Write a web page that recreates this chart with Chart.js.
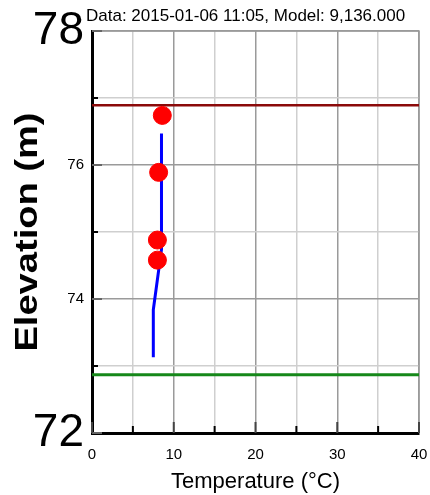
<!DOCTYPE html>
<html>
<head>
<meta charset="utf-8">
<script src="https://cdn.jsdelivr.net/npm/chart.js@4/dist/chart.umd.min.js"></script>
<style>
  html, body { margin: 0; padding: 0; background: #fff; }
  canvas { display: block; }
</style>
</head>
<body>
<canvas id="profileChart" width="430" height="495"></canvas>
<script>
// --- data ---
const headerText = 'Data: 2015-01-06 11:05, Model: 9,136.000';

// modelled profile (blue line)
const profileTemp = [8.5, 8.5, 7.5, 7.5];
const profileElev = [76.47, 74.74, 73.84, 73.13];

// measured points (red dots)
const obsTemp = [8.6, 8.15, 8.0, 8.0];
const obsElev = [76.74, 75.89, 74.88, 74.58];

// horizontal levels
const surfaceLevel = 76.89;   // dark red
const bottomLevel = 72.87;    // green
const levelSpan = [0, 40];

const yBigTicks = [78, 72];
const yLabelTicks = [78, 76, 74, 72];
const xLabelTicks = [0, 10, 20, 30, 40];

const FONT = '"Liberation Sans", Arial, sans-serif';

function pairs(xs, ys) {
    return xs.map((x, i) => ({ x: x, y: ys[i] }));
}

// border, inner ticks, header and y title
const decorPlugin = {
    id: 'decor',
    beforeDatasetsDraw(chart) {
        const { ctx, chartArea: a, scales } = chart;
        ctx.save();
        // top/right border
        ctx.strokeStyle = '#9a9a9a';
        ctx.lineWidth = 1.5;
        ctx.beginPath();
        ctx.moveTo(a.left, a.top);
        ctx.lineTo(a.right, a.top);
        ctx.lineTo(a.right, a.bottom);
        ctx.stroke();

        // inward ticks on y axis
        scales.y.ticks.forEach(t => {
            const py = scales.y.getPixelForValue(t.value);
            const major = t.value % 2 === 0;
            ctx.strokeStyle = major ? '#666' : '#000';
            ctx.lineWidth = 2;
            ctx.beginPath();
            ctx.moveTo(a.left, py);
            ctx.lineTo(a.left + (major ? 10 : 6), py);
            ctx.stroke();
        });
        // inward ticks on x axis
        scales.x.ticks.forEach(t => {
            const px = scales.x.getPixelForValue(t.value);
            const major = t.value % 10 === 0;
            ctx.strokeStyle = major ? '#444' : '#000';
            ctx.lineWidth = 2;
            ctx.beginPath();
            ctx.moveTo(px, a.bottom);
            ctx.lineTo(px, a.bottom - (major ? 11 : 7));
            ctx.stroke();
        });
        ctx.restore();
    },
    afterDraw(chart) {
        const { ctx, chartArea: a } = chart;
        ctx.save();
        ctx.fillStyle = '#000';
        ctx.font = '17px ' + FONT;
        ctx.textAlign = 'left';
        ctx.textBaseline = 'alphabetic';
        ctx.fillText(headerText, 86, 21);

        // y axis title (stretched like the original)
        ctx.translate(28, (a.top + a.bottom) / 2);
        ctx.rotate(-Math.PI / 2);
        ctx.scale(1.19, 1);
        ctx.font = 'bold 32px ' + FONT;
        ctx.textAlign = 'center';
        ctx.textBaseline = 'middle';
        ctx.fillText('Elevation (m)', 0, 0);
        ctx.restore();
    }
};

new Chart(document.getElementById('profileChart'), {
    type: 'scatter',
    data: {
        datasets: [
            {
                label: 'Measured',
                data: pairs(obsTemp, obsElev),
                backgroundColor: '#ff0000',
                borderColor: '#ff0000',
                pointRadius: 9,
                pointHoverRadius: 9,
                showLine: false
            },
            {
                label: 'Model',
                data: pairs(profileTemp, profileElev),
                borderColor: '#0000ff',
                borderWidth: 3,
                pointRadius: 0,
                showLine: true,
                tension: 0
            },
            {
                label: 'Surface',
                data: pairs(levelSpan, [surfaceLevel, surfaceLevel]),
                borderColor: '#8b0a0a',
                borderWidth: 2.5,
                pointRadius: 0,
                showLine: true
            },
            {
                label: 'Bottom',
                data: pairs(levelSpan, [bottomLevel, bottomLevel]),
                borderColor: '#16881a',
                borderWidth: 3,
                pointRadius: 0,
                showLine: true
            }
        ]
    },
    options: {
        responsive: false,
        animation: false,
        layout: { padding: { top: 31, right: 11, left: 0, bottom: 0 } },
        plugins: {
            legend: { display: false },
            tooltip: { enabled: false },
            title: { display: false }
        },
        scales: {
            x: {
                type: 'linear',
                min: 0,
                max: 40,
                afterFit(scale) {
                    scale.height = 62;
                    scale.paddingLeft = 0;
                    scale.paddingRight = 0;
                },
                border: { display: true, color: '#000', width: 3 },
                grid: {
                    drawTicks: false,
                    lineWidth: 1.5,
                    color: ctx => (ctx.tick && ctx.tick.value % 10 === 0) ? '#9a9a9a' : '#cfcfcf'
                },
                ticks: {
                    stepSize: 5,
                    padding: 13,
                    color: '#000',
                    maxRotation: 0,
                    font: { family: FONT, size: 15 },
                    callback: v => xLabelTicks.includes(v) ? String(v) : ''
                },
                title: {
                    display: true,
                    text: 'Temperature (°C)',
                    color: '#000',
                    font: { family: FONT, size: 22 },
                    padding: { top: 0, bottom: 0 }
                }
            },
            y: {
                type: 'linear',
                min: 72,
                max: 78,
                afterFit(scale) {
                    scale.width = 92;
                    scale.paddingTop = 0;
                    scale.paddingBottom = 0;
                },
                border: { display: true, color: '#000', width: 3 },
                grid: {
                    drawTicks: false,
                    lineWidth: 1.5,
                    color: ctx => (ctx.tick && ctx.tick.value % 2 === 0) ? '#9a9a9a' : '#cfcfcf'
                },
                ticks: {
                    stepSize: 1,
                    padding: 8,
                    color: '#000',
                    font: ctx => {
                        const big = ctx.tick && yBigTicks.includes(ctx.tick.value);
                        return { family: FONT, size: big ? 46 : 15 };
                    },
                    callback: v => yLabelTicks.includes(v) ? String(v) : ''
                },
                title: { display: false }
            }
        }
    },
    plugins: [decorPlugin]
});
</script>
</body>
</html>
